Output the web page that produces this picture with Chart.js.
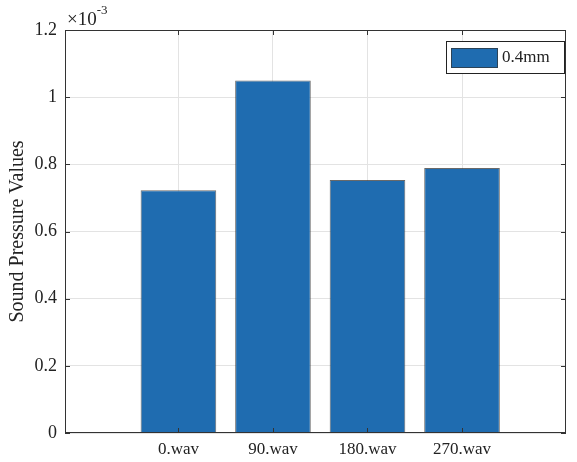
<!DOCTYPE html>
<html>
<head>
<meta charset="utf-8">
<script src="https://cdn.jsdelivr.net/npm/chart.js@4"></script>
<style>
  html, body { margin: 0; padding: 0; background: #fff; }
  #wrap { width: 577px; height: 462px; }
</style>
</head>
<body>
<div id="wrap"><canvas id="bars"></canvas></div>
<script>
  // values are in units of 1e-3
  var categories = ['0.wav', '90.wav', '180.wav', '270.wav'];
  var positions = [1, 2, 3, 4];
  var pressure = [0.723, 1.05, 0.753, 0.789];
  var seriesName = '0.4mm';

  var serif = '"Liberation Serif", "Times New Roman", serif';
  var barBlue = '#1f6cb0';

  // box around the axes, inward tick marks, exponent and legend
  var axesDecor = {
    id: 'axesDecor',
    afterDraw: function (chart) {
      var ctx = chart.ctx;
      var a = chart.chartArea;
      var xs = chart.scales.x, ys = chart.scales.y;
      ctx.save();
      ctx.strokeStyle = '#333';
      ctx.lineWidth = 1;
      ctx.strokeRect(a.left + 0.5, a.top + 0.5, a.right - a.left - 1, a.bottom - a.top - 1);

      ctx.beginPath();
      xs.ticks.forEach(function (t) {
        var px = Math.round(xs.getPixelForValue(t.value)) + 0.5;
        ctx.moveTo(px, a.bottom); ctx.lineTo(px, a.bottom - 5);
        ctx.moveTo(px, a.top); ctx.lineTo(px, a.top + 5);
      });
      ys.ticks.forEach(function (t) {
        var py = Math.round(ys.getPixelForValue(t.value)) + 0.5;
        ctx.moveTo(a.left, py); ctx.lineTo(a.left + 5, py);
        ctx.moveTo(a.right, py); ctx.lineTo(a.right - 5, py);
      });
      ctx.stroke();

      // x10^-3 multiplier above the y axis
      ctx.fillStyle = '#222';
      ctx.textBaseline = 'alphabetic';
      ctx.textAlign = 'left';
      ctx.font = '19px ' + serif;
      ctx.fillText('\u00d710', a.left + 2, a.top - 5);
      var w = ctx.measureText('\u00d710').width;
      ctx.font = '13px ' + serif;
      ctx.fillText('-3', a.left + 2 + w, a.top - 16);

      // legend
      var bx = a.right - 120, by = a.top + 11, bw = 118, bh = 32;
      ctx.fillStyle = '#fff';
      ctx.fillRect(bx, by, bw, bh);
      ctx.strokeStyle = '#222';
      ctx.strokeRect(bx + 0.5, by + 0.5, bw, bh);
      ctx.fillStyle = barBlue;
      ctx.fillRect(bx + 5, by + 7, 47, 20);
      ctx.strokeStyle = 'rgba(50,50,50,0.7)';
      ctx.strokeRect(bx + 5.5, by + 7.5, 46, 19);
      ctx.fillStyle = '#222';
      ctx.font = '17px ' + serif;
      ctx.textBaseline = 'middle';
      ctx.fillText(seriesName, bx + 56, by + bh / 2 + 1);
      ctx.restore();
    }
  };

  var data = {
    datasets: [{
      label: seriesName,
      data: positions.map(function (p, i) { return { x: p, y: pressure[i] }; }),
      backgroundColor: barBlue,
      borderColor: 'rgba(55,55,55,0.75)',
      borderWidth: 1,
      categoryPercentage: 1.0,
      barPercentage: 0.8
    }]
  };

  var config = {
    type: 'bar',
    data: data,
    plugins: [axesDecor],
    options: {
      responsive: true,
      maintainAspectRatio: false,
      animation: false,
      layout: { padding: { top: 30, right: 11, left: 0, bottom: 0 } },
      plugins: {
        legend: { display: false },
        tooltip: { enabled: false }
      },
      scales: {
        x: {
          type: 'linear',
          offset: false,
          min: -0.2,
          max: 5.1,
          afterBuildTicks: function (axis) {
            axis.ticks = positions.map(function (p) { return { value: p }; });
          },
          afterFit: function (axis) { axis.height = 29; },
          grid: { color: '#e3e3e3', drawTicks: false, offset: false },
          border: { display: false },
          ticks: {
            color: '#222',
            padding: 6,
            maxRotation: 0,
            font: { family: serif, size: 17 },
            callback: function (v) { return categories[v - 1]; }
          }
        },
        y: {
          min: 0,
          max: 1.2,
          afterFit: function (axis) { axis.width = 65; },
          grid: { color: '#e3e3e3', drawTicks: false },
          border: { display: false },
          ticks: {
            stepSize: 0.2,
            color: '#222',
            padding: 8,
            font: { family: serif, size: 18 },
            callback: function (v) { return Math.round(v * 10) / 10; }
          },
          title: {
            display: true,
            text: 'Sound Pressure Values',
            color: '#222',
            font: { family: serif, size: 20 },
            padding: { top: 6, bottom: 0 }
          }
        }
      }
    }
  };

  var myChart = new Chart(document.getElementById('bars'), config);
</script>
</body>
</html>
